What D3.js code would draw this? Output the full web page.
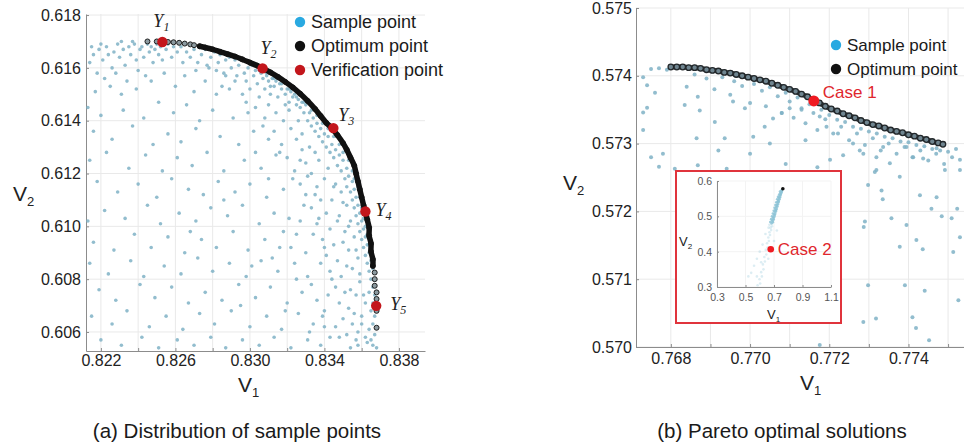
<!DOCTYPE html>
<html>
<head>
<meta charset="utf-8">
<script src="https://cdn.jsdelivr.net/npm/d3@7"></script>
<style>
body { margin: 0; background: #fff; }
svg { display: block; font-family: "Liberation Sans", Arial, sans-serif; }
</style>
</head>
<body>
<svg id="chart" width="964" height="446"></svg>
<script>
// ---- (a) distribution of sample points ----
var leftXGrid = [0.822, 0.824, 0.826, 0.828, 0.830, 0.832, 0.834, 0.836, 0.838],
    leftXTicks = [0.822, 0.826, 0.830, 0.834, 0.838],
    leftYTicks = [0.606, 0.608, 0.610, 0.612, 0.614, 0.616, 0.618];

var leftSamples = [
  // top left
  [0.8214,0.6162],[0.8216,0.6165],[0.8219,0.6167],[0.8221,0.6163],[0.8223,0.6168],[0.8224,0.6165],[0.8226,0.6160],[0.8227,0.6166],
  [0.8229,0.6169],[0.8230,0.6164],[0.8232,0.6167],[0.8233,0.6161],[0.8235,0.6168],[0.8236,0.6165],[0.8238,0.6169],[0.8239,0.6163],
  [0.8241,0.6167],[0.8242,0.6168],[0.8243,0.6164],[0.8245,0.6169],[0.8246,0.6166],[0.8247,0.6168],[0.8248,0.6162],[0.8249,0.6167],
  [0.8250,0.6169],[0.8251,0.6165],[0.8252,0.6168],[0.8218,0.6158],[0.8222,0.6156],[0.8228,0.6158],[0.8234,0.6155],[0.8240,0.6159],
  [0.8244,0.6157],[0.8215,0.6168],[0.8220,0.6169],[0.8237,0.6170],[0.8231,0.6170],[0.8253,0.6163],[0.8255,0.6167],[0.8256,0.6169],
  [0.8258,0.6164],[0.8259,0.6168],[0.8261,0.6166],[0.8263,0.6168],[0.8264,0.6162],
  // band under the upper front
  [0.8266,0.6166],[0.8268,0.6164],[0.8270,0.6167],[0.8272,0.6162],[0.8274,0.6165],[0.8276,0.6167],[0.8278,0.6160],[0.8279,0.6164],
  [0.8281,0.6166],[0.8283,0.6162],[0.8284,0.6165],[0.8286,0.6158],[0.8287,0.6163],[0.8289,0.6164],[0.8290,0.6160],[0.8292,0.6163],
  [0.8293,0.6157],[0.8294,0.6161],[0.8296,0.6163],[0.8297,0.6158],[0.8298,0.6155],[0.8299,0.6160],[0.8301,0.6161],[0.8302,0.6157],
  [0.8303,0.6159],[0.8304,0.6154],[0.8306,0.6158],[0.8307,0.6156],[0.8308,0.6152],[0.8309,0.6157],[0.8310,0.6155],[0.8311,0.6150],
  [0.8312,0.6156],[0.8313,0.6153],[0.8314,0.6155],[0.8315,0.6149],[0.8316,0.6154],[0.8317,0.6152],[0.8318,0.6155],[0.8319,0.6150],
  [0.8320,0.6152],[0.8321,0.6147],[0.8322,0.6151],[0.8323,0.6149],[0.8324,0.6150],[0.8325,0.6146],[0.8326,0.6148],[0.8327,0.6145],
  [0.8328,0.6147],[0.8329,0.6143],[0.8330,0.6146],
  // band along the steep part
  [0.8332,0.6143],[0.8331,0.6140],[0.8334,0.6141],[0.8333,0.6138],[0.8336,0.6139],[0.8335,0.6136],[0.8338,0.6137],[0.8337,0.6134],
  [0.8340,0.6135],[0.8339,0.6132],[0.8342,0.6134],[0.8341,0.6130],[0.8344,0.6131],[0.8343,0.6128],[0.8346,0.6129],[0.8345,0.6126],
  [0.8348,0.6127],[0.8347,0.6123],[0.8350,0.6125],[0.8349,0.6121],[0.8352,0.6122],[0.8351,0.6118],[0.8353,0.6119],[0.8352,0.6115],
  [0.8355,0.6117],[0.8354,0.6113],[0.8356,0.6114],[0.8355,0.6110],[0.8357,0.6111],[0.8356,0.6107],[0.8358,0.6108],[0.8357,0.6104],
  [0.8359,0.6105],[0.8358,0.6101],[0.8360,0.6102],[0.8359,0.6098],[0.8361,0.6099],[0.8360,0.6095],[0.8362,0.6096],[0.8361,0.6092],
  [0.8363,0.6093],[0.8362,0.6089],[0.8364,0.6090],[0.8363,0.6086],[0.8365,0.6087],[0.8364,0.6083],[0.8366,0.6084],[0.8365,0.6080],
  [0.8366,0.6077],[0.8364,0.6075],[0.8367,0.6074],[0.8366,0.6071],[0.8365,0.6068],[0.8367,0.6066],[0.8366,0.6063],[0.8364,0.6061],
  [0.8367,0.6059],[0.8365,0.6057],[0.8366,0.6055],[0.8368,0.6054],[0.8363,0.6056],
  // hugging the front
  [0.8305,0.6159],[0.8309,0.6158],[0.8313,0.6156],[0.8317,0.6154],[0.8321,0.6152],[0.8325,0.6149],[0.8329,0.6147],[0.8333,0.6144],
  [0.8336,0.6142],[0.8339,0.6139],[0.8342,0.6137],[0.8345,0.6134],[0.8348,0.6131],[0.8350,0.6128],[0.8353,0.6125],[0.8355,0.6121],
  [0.8356,0.6118],[0.8358,0.6115],[0.8359,0.6111],[0.8360,0.6107],[0.8361,0.6103],[0.8362,0.6100],[0.8363,0.6097],[0.8364,0.6093],
  [0.8365,0.6090],
  // wider band
  [0.8300,0.6152],[0.8305,0.6149],[0.8296,0.6150],[0.8310,0.6146],[0.8314,0.6143],[0.8303,0.6145],[0.8318,0.6140],[0.8308,0.6141],
  [0.8322,0.6137],[0.8313,0.6136],[0.8325,0.6133],[0.8317,0.6131],[0.8328,0.6129],[0.8320,0.6126],[0.8330,0.6124],[0.8324,0.6121],
  [0.8333,0.6120],[0.8327,0.6116],[0.8336,0.6115],[0.8330,0.6112],[0.8338,0.6110],[0.8333,0.6107],[0.8341,0.6105],[0.8336,0.6101],
  [0.8343,0.6099],[0.8339,0.6095],[0.8345,0.6093],[0.8341,0.6089],[0.8347,0.6087],[0.8343,0.6083],[0.8349,0.6081],[0.8346,0.6077],
  [0.8351,0.6075],[0.8348,0.6071],[0.8353,0.6069],[0.8350,0.6065],[0.8355,0.6063],[0.8352,0.6059],[0.8357,0.6057],[0.8354,0.6054],
  [0.8292,0.6155],[0.8287,0.6157],[0.8282,0.6159],[0.8277,0.6161],[0.8271,0.6159],[0.8285,0.6153],[0.8298,0.6147],[0.8307,0.6138],
  [0.8316,0.6128],[0.8323,0.6118],[0.8329,0.6108],[0.8334,0.6097],[0.8338,0.6086],[0.8342,0.6074],[0.8346,0.6062],
  [0.8326,0.6140],[0.8321,0.6144],[0.8332,0.6130],[0.8337,0.6125],[0.8340,0.6118],[0.8344,0.6110],[0.8347,0.6102],[0.8350,0.6094],
  [0.8352,0.6085],[0.8354,0.6076],[0.8356,0.6067],[0.8358,0.6060],[0.8360,0.6066],[0.8361,0.6074],[0.8359,0.6082],[0.8357,0.6091],
  [0.8353,0.6100],[0.8350,0.6109],[0.8346,0.6116],[0.8342,0.6122],[0.8335,0.6128],[0.8328,0.6135],[0.8319,0.6146],[0.8311,0.6153],
  [0.8345,0.6115],[0.8349,0.6113],[0.8352,0.6108],[0.8348,0.6104],[0.8354,0.6102],[0.8351,0.6098],[0.8356,0.6096],[0.8353,0.6091],
  [0.8358,0.6088],[0.8355,0.6084],[0.8359,0.6079],[0.8357,0.6074],[0.8362,0.6071],[0.8360,0.6063],[0.8362,0.6058],[0.8358,0.6055],
  [0.8344,0.6080],[0.8340,0.6092],[0.8337,0.6103],[0.8335,0.6112],[0.8331,0.6119],[0.8327,0.6125],[0.8340,0.6062],[0.8348,0.6058],
  // interior
  [0.8217,0.6151],[0.8225,0.6153],[0.8231,0.6150],[0.8239,0.6152],[0.8247,0.6155],[0.8254,0.6158],[0.8260,0.6153],[0.8265,0.6157],
  [0.8270,0.6151],[0.8276,0.6155],[0.8282,0.6150],[0.8289,0.6152],
  [0.8213,0.6145],[0.8220,0.6142],[0.8232,0.6144],[0.8243,0.6141],[0.8251,0.6147],[0.8259,0.6143],[0.8266,0.6146],[0.8273,0.6140],
  [0.8280,0.6144],[0.8291,0.6141],[0.8299,0.6143],
  [0.8216,0.6136],[0.8226,0.6133],[0.8237,0.6138],[0.8248,0.6131],[0.8256,0.6135],[0.8263,0.6132],[0.8271,0.6137],[0.8284,0.6134],
  [0.8294,0.6131],[0.8302,0.6136],[0.8310,0.6133],
  [0.8214,0.6125],[0.8223,0.6128],[0.8235,0.6122],[0.8244,0.6127],[0.8253,0.6121],[0.8261,0.6126],[0.8269,0.6123],[0.8277,0.6128],
  [0.8286,0.6121],[0.8297,0.6125],[0.8306,0.6122],[0.8314,0.6127],
  [0.8218,0.6117],[0.8229,0.6113],[0.8240,0.6116],[0.8250,0.6111],[0.8258,0.6118],[0.8267,0.6114],[0.8275,0.6112],[0.8283,0.6117],
  [0.8292,0.6113],[0.8300,0.6116],[0.8309,0.6111],[0.8318,0.6114],
  [0.8213,0.6102],[0.8222,0.6106],[0.8233,0.6103],[0.8245,0.6108],[0.8252,0.6101],[0.8262,0.6105],[0.8271,0.6102],[0.8279,0.6107],
  [0.8288,0.6104],[0.8296,0.6108],[0.8305,0.6101],[0.8313,0.6105],[0.8321,0.6103],
  [0.8216,0.6094],[0.8227,0.6091],[0.8238,0.6097],[0.8247,0.6092],[0.8256,0.6096],[0.8265,0.6090],[0.8274,0.6095],[0.8282,0.6092],
  [0.8291,0.6098],[0.8299,0.6091],[0.8308,0.6095],[0.8316,0.6092],[0.8325,0.6097],
  [0.8214,0.6086],[0.8224,0.6082],[0.8236,0.6087],[0.8243,0.6081],[0.8254,0.6085],[0.8263,0.6082],[0.8272,0.6088],[0.8280,0.6083],
  [0.8289,0.6086],[0.8298,0.6081],[0.8306,0.6087],[0.8315,0.6083],[0.8324,0.6086],[0.8331,0.6081],
  [0.8219,0.6076],[0.8228,0.6072],[0.8241,0.6078],[0.8249,0.6073],[0.8258,0.6077],[0.8267,0.6071],[0.8276,0.6075],[0.8285,0.6072],
  [0.8294,0.6078],[0.8303,0.6073],[0.8311,0.6077],[0.8320,0.6071],[0.8328,0.6075],[0.8336,0.6072],
  [0.8215,0.6066],[0.8226,0.6063],[0.8234,0.6068],[0.8246,0.6062],[0.8255,0.6066],[0.8264,0.6061],[0.8273,0.6067],[0.8281,0.6063],
  [0.8290,0.6068],[0.8300,0.6062],[0.8309,0.6066],[0.8317,0.6061],[0.8326,0.6067],[0.8334,0.6063],[0.8340,0.6068],
  [0.8220,0.6057],[0.8231,0.6055],[0.8242,0.6058],[0.8251,0.6054],[0.8261,0.6057],[0.8270,0.6055],[0.8279,0.6058],[0.8287,0.6054],
  [0.8296,0.6057],[0.8305,0.6055],[0.8313,0.6058],[0.8322,0.6054],[0.8331,0.6057],[0.8338,0.6055],[0.8343,0.6058],
  [0.8318,0.6098],[0.8322,0.6092],[0.8327,0.6102],[0.8312,0.6088],[0.8330,0.6090],[0.8333,0.6078],[0.8325,0.6080],[0.8319,0.6068],
  [0.8339,0.6066],[0.8332,0.6060],[0.8301,0.6085],[0.8295,0.6070],[0.8310,0.6118],[0.8303,0.6128],[0.8286,0.6110],[0.8268,0.6098]
];

var leftOptimum = [
  [0.8245,0.61700],[0.8250,0.61700],[0.8256,0.61698],[0.8259,0.61697],[0.8262,0.61695],[0.8265,0.61692],[0.8268,0.61689],
  [0.8270,0.61686],[0.8273,0.61682],[0.8276,0.61677],[0.8280,0.61670],[0.8284,0.61661],[0.8288,0.61652],[0.8292,0.61643],
  [0.8296,0.61632],[0.8300,0.61620],[0.8304,0.61608],[0.8307,0.61598],[0.8311,0.61583],[0.8315,0.61566],[0.8319,0.61547],
  [0.8323,0.61526],[0.8327,0.61502],[0.8331,0.61475],[0.8335,0.61444],[0.8338,0.61418],[0.8341,0.61392],[0.8344,0.61372],
  [0.8347,0.61345],[0.8350,0.61315],[0.8352,0.61290],[0.8354,0.61260],[0.8356,0.61230],[0.8357,0.61200],[0.8358,0.61170],
  [0.8359,0.61140],[0.8360,0.61110],[0.8361,0.61080],[0.8362,0.61056],[0.8363,0.61025],[0.8364,0.60995],[0.8364,0.60965],
  [0.8365,0.60935],[0.8365,0.60905],[0.8366,0.60875],[0.8366,0.60850],[0.8367,0.60825],[0.8367,0.60800],[0.8367,0.60775],
  [0.8368,0.60750],[0.8368,0.60725],[0.8368,0.60700],[0.8368,0.60680],[0.8368,0.60616]
];

var verifyPoints = [[0.8253,0.61698],[0.83068,0.61598],[0.83448,0.61372],[0.8362,0.61056],[0.83678,0.60699]],
    verifyNames = ["1", "2", "3", "4", "5"];

// ---- (b) Pareto optimal solutions ----
var rightXGrid = [0.768, 0.769, 0.770, 0.771, 0.772, 0.773, 0.774, 0.775, 0.776],
    rightXTicks = [0.768, 0.770, 0.772, 0.774],
    rightYTicks = [0.570, 0.571, 0.572, 0.573, 0.574, 0.575];

var rightSamples = [
  [0.7673,0.57398],[0.7675,0.57410],[0.7677,0.57411],[0.7679,0.57409],[0.7674,0.57353],[0.7676,0.57375],[0.7673,0.57346],
  [0.7674,0.57386],[0.7678,0.57285],[0.7675,0.57280],[0.7677,0.57266],[0.7681,0.57263],[0.7673,0.57320],
  [0.7686,0.57402],[0.7689,0.57396],[0.7691,0.57380],[0.7693,0.57398],[0.7695,0.57372],[0.7696,0.57392],[0.7698,0.57385],
  [0.7700,0.57360],[0.7701,0.57388],[0.7703,0.57378],[0.7704,0.57355],[0.7705,0.57383],[0.7707,0.57370],[0.7708,0.57345],
  [0.7709,0.57375],[0.7710,0.57362],[0.7711,0.57338],[0.7712,0.57368],[0.7713,0.57352],[0.7714,0.57330],[0.7715,0.57358],
  [0.7716,0.57345],[0.7717,0.57320],[0.7718,0.57350],[0.7719,0.57336],[0.7720,0.57342],[0.7721,0.57315],[0.7722,0.57335],
  [0.7723,0.57325],[0.7724,0.57332],[0.7725,0.57305],[0.7726,0.57325],[0.7727,0.57315],[0.7728,0.57322],[0.7729,0.57298],
  [0.7730,0.57318],[0.7731,0.57308],[0.7732,0.57315],[0.7733,0.57290],[0.7734,0.57310],[0.7735,0.57300],[0.7736,0.57308],
  [0.7737,0.57285],[0.7738,0.57303],[0.7739,0.57295],[0.7740,0.57302],[0.7741,0.57280],[0.7742,0.57298],[0.7743,0.57290],
  [0.7744,0.57296],[0.7745,0.57275],[0.7746,0.57292],[0.7747,0.57285],[0.7748,0.57290],[0.7749,0.57270],[0.7750,0.57288],
  [0.7751,0.57280],[0.7752,0.57292],[0.7753,0.57276],[0.7755,0.57285],
  [0.76865,0.57308],[0.76873,0.57349],[0.76835,0.57357],[0.76840,0.57384],[0.76868,0.57369],[0.76911,0.57332],[0.76936,0.57308],
  [0.76957,0.57362],[0.76987,0.57352],[0.77008,0.57310],[0.77037,0.57325],[0.77058,0.57337],[0.77080,0.57345],[0.77100,0.57352],
  [0.77130,0.57350],[0.77202,0.57276],[0.77235,0.57283],[0.77193,0.57325],[0.77176,0.57340],[0.77222,0.57315],[0.77260,0.57300],
  [0.77286,0.57285],[0.77319,0.57280],[0.77336,0.57295],[0.77353,0.57271],[0.77395,0.57295],[0.77412,0.57280],[0.77437,0.57278],
  [0.77471,0.57293],[0.77492,0.57261],[0.77530,0.57261],[0.77378,0.57251],[0.77315,0.57258],[0.76868,0.57268],[0.76941,0.57263],
  [0.7692,0.57290],[0.7700,0.57285],[0.7705,0.57300],[0.7709,0.57270],[0.7714,0.57305],[0.7717,0.57265],
  [0.77319,0.57261],[0.77332,0.57231],[0.77335,0.57218],[0.77429,0.57224],[0.77471,0.57221],[0.77458,0.57204],[0.77484,0.57193],
  [0.77523,0.57204],[0.77509,0.57190],[0.77357,0.57190],[0.77395,0.57180],[0.77378,0.57148],[0.77420,0.57158],[0.77436,0.57144],
  [0.77513,0.57140],[0.77530,0.57162],[0.77298,0.57091],[0.77391,0.57091],[0.77441,0.57083],[0.77526,0.57069],[0.77318,0.57042],
  [0.77410,0.57044],[0.77419,0.57028],[0.77452,0.57010],[0.77286,0.57037],[0.77287,0.57177],[0.77290,0.57185],[0.77298,0.57239],
  [0.77277,0.57290],[0.7756,0.57120],[0.7758,0.57180],[0.7760,0.57060],[0.7757,0.57030],[0.7761,0.57250],[0.7756,0.57265],
  [0.7758,0.57245],[0.7760,0.57275],[0.7757,0.57225],[0.77176,0.57003]
];

var rightOptimum = [
  [0.76800,0.57413],[0.76815,0.57413],[0.76830,0.57413],[0.76845,0.57412],[0.76860,0.57412],[0.76875,0.57411],[0.76890,0.57409],
  [0.76905,0.57408],[0.76920,0.57407],[0.76935,0.57405],[0.76950,0.57404],[0.76965,0.57402],[0.76980,0.57400],[0.76995,0.57398],
  [0.77010,0.57396],[0.77025,0.57394],[0.77040,0.57392],[0.77055,0.57389],[0.77070,0.57386],[0.77085,0.57383],[0.77100,0.57380],
  [0.77115,0.57377],[0.77130,0.57373],[0.77145,0.57369],[0.77160,0.57364],[0.77175,0.57360],[0.77190,0.57355],[0.77205,0.57351],
  [0.77220,0.57348],[0.77235,0.57344],[0.77250,0.57341],[0.77265,0.57338],[0.77280,0.57334],[0.77295,0.57331],[0.77310,0.57328],
  [0.77325,0.57326],[0.77340,0.57323],[0.77355,0.57320],[0.77370,0.57318],[0.77385,0.57316],[0.77400,0.57313],[0.77415,0.57311],
  [0.77430,0.57308],[0.77445,0.57306],[0.77460,0.57303],[0.77475,0.57301],[0.77487,0.57299]
];

var case1 = [0.77161, 0.57363];

// inset: whole design space
var insetXTicks = [0.3, 0.5, 0.7, 0.9, 1.1],
    insetYTicks = [0.3, 0.4, 0.5, 0.6];

var insetSamples = [
  [0.757,0.575],[0.750,0.572],[0.753,0.567],[0.745,0.566],[0.748,0.561],[0.740,0.559],[0.744,0.555],[0.735,0.553],[0.739,0.548],
  [0.730,0.546],[0.734,0.541],[0.725,0.540],[0.729,0.535],[0.720,0.533],[0.724,0.528],[0.715,0.526],[0.719,0.521],[0.710,0.519],
  [0.714,0.514],[0.705,0.512],[0.709,0.507],[0.700,0.505],[0.703,0.499],[0.694,0.497],[0.698,0.491],[0.688,0.489],[0.692,0.483],
  [0.683,0.480],[0.686,0.472],[0.676,0.468],[0.680,0.461],[0.668,0.455],[0.672,0.447],[0.660,0.440],[0.664,0.430],[0.651,0.424],
  [0.655,0.412],[0.642,0.405],[0.646,0.392],[0.632,0.385],[0.636,0.372],[0.622,0.364],[0.626,0.350],[0.610,0.342],[0.615,0.330],
  [0.598,0.322],[0.603,0.310],[0.585,0.305],[0.755,0.570],[0.747,0.563],[0.738,0.552],[0.731,0.543],[0.722,0.531],[0.713,0.517],
  [0.704,0.503],[0.696,0.494],[0.690,0.486],
  [0.742,0.570],[0.736,0.562],[0.728,0.555],[0.722,0.548],[0.716,0.540],[0.710,0.532],[0.704,0.524],[0.698,0.516],[0.692,0.508],
  [0.686,0.500],[0.680,0.492],[0.674,0.484],[0.668,0.476],[0.662,0.468],
  [0.620,0.420],[0.600,0.400],[0.580,0.380],[0.560,0.360],[0.540,0.340],[0.520,0.330],[0.640,0.450],[0.660,0.380],[0.700,0.430],
  [0.720,0.460],[0.580,0.330],[0.610,0.370]
];
var insetOptimum = [[0.762, 0.578]],
    case2 = [0.677, 0.407];

var sampleColor = "#7fb2c6",
    legendSampleColor = "#29a9e1",
    verifyColor = "#c3161c",
    caseColor = "#ef1b22",
    caseTextColor = "#e0262d";

var svg = d3.select("#chart");

function styleAxis(g, size, color) {
    g.attr("font-family", null).attr("font-size", size);
    g.select(".domain").attr("stroke", "#8c8c8c");
    g.selectAll(".tick line").attr("stroke", "#8c8c8c");
    g.selectAll(".tick text").attr("fill", color);
}

function drawFrame(g, x, y, xGrid, xTicks, yTicks, fmt, opt) {
    var x0 = x.range()[0], x1 = x.range()[1],
        y0 = y.range()[0], y1 = y.range()[1];

    g.append("g").selectAll("line").data(xGrid).join("line")
        .attr("x1", d => x(d)).attr("x2", d => x(d))
        .attr("y1", y0).attr("y2", y1)
        .attr("stroke", opt.grid);
    g.append("g").selectAll("line").data(yTicks).join("line")
        .attr("x1", x0).attr("x2", x1)
        .attr("y1", d => y(d)).attr("y2", d => y(d))
        .attr("stroke", opt.grid);

    var xAxis = g.append("g")
        .attr("transform", "translate(0," + y0 + ")")
        .call(d3.axisBottom(x).tickValues(xGrid)
            .tickSizeInner(-opt.tick).tickSizeOuter(0).tickPadding(opt.padX)
            .tickFormat(d => xTicks.indexOf(d) >= 0 ? fmt(d) : ""));
    styleAxis(xAxis, opt.font, opt.text);

    var yAxis = g.append("g")
        .attr("transform", "translate(" + x0 + ",0)")
        .call(d3.axisLeft(y).tickValues(yTicks)
            .tickSizeInner(-opt.tick).tickSizeOuter(0).tickPadding(opt.padY)
            .tickFormat(fmt));
    styleAxis(yAxis, opt.font, opt.text);
}

function axisTitle(g, px, py, sub, size) {
    var t = g.append("text").attr("x", px).attr("y", py)
        .attr("font-size", size).attr("fill", "#222");
    t.append("tspan").text("V");
    t.append("tspan").attr("font-size", size * 0.62).attr("dy", size * 0.25).text(sub);
}

function legend(g, lx, ly, size, items) {
    items.forEach(function(it, i) {
        g.append("circle").attr("cx", lx).attr("cy", ly[i]).attr("r", 5.2).attr("fill", it.color);
        g.append("text").attr("x", lx + 11).attr("y", ly[i]).attr("dy", "0.35em")
            .attr("font-size", size).attr("fill", "#1a1a1a").text(it.name);
    });
}

// ---------- panel (a) ----------
var xA = d3.scaleLinear().domain([0.8212, 0.8394]).range([86, 425]),
    yA = d3.scaleLinear().domain([0.60528, 0.61804]).range([351, 14]),
    gA = svg.append("g");

drawFrame(gA, xA, yA, leftXGrid, leftXTicks, leftYTicks, d3.format(".3f"),
    {grid: "#e9e9e9", tick: 3, padX: 4, padY: 5, font: 16, text: "#222"});

gA.append("g").selectAll("circle").data(leftSamples).join("circle")
    .attr("cx", d => xA(d[0])).attr("cy", d => yA(d[1]))
    .attr("r", 1.8).attr("fill", sampleColor).attr("opacity", 0.85);

gA.append("g").selectAll("circle").data(leftOptimum).join("circle")
    .attr("cx", d => xA(d[0])).attr("cy", d => yA(d[1]))
    .attr("r", 2.5).attr("fill", "#8c9aa0").attr("stroke", "#1f1f1f").attr("stroke-width", 1);

// where the optimum points pile up they read as one solid black band
var denseFront = leftOptimum.filter(d => d[0] >= 0.8273 && d[1] >= 0.6085);
gA.append("path").datum(denseFront)
    .attr("d", d3.line().x(d => xA(d[0])).y(d => yA(d[1])).curve(d3.curveCatmullRom))
    .attr("fill", "none").attr("stroke", "#111").attr("stroke-width", 5.5).attr("stroke-linecap", "round");

var verifyOffset = [[-9, -15], [-2, -14], [5, -7], [10, 4], [14, 4]];
verifyPoints.forEach(function(p, i) {
    gA.append("circle").attr("cx", xA(p[0])).attr("cy", yA(p[1])).attr("r", 5.2).attr("fill", verifyColor);
    var t = gA.append("text")
        .attr("x", xA(p[0]) + verifyOffset[i][0]).attr("y", yA(p[1]) + verifyOffset[i][1])
        .attr("font-family", "Liberation Serif, Times New Roman, serif").attr("font-style", "italic")
        .attr("font-size", 18).attr("fill", "#222");
    t.append("tspan").text("Y");
    t.append("tspan").attr("font-size", 12).attr("dy", 4).text(verifyNames[i]);
});

legend(gA, 300, [22, 46, 70], 18, [
    {name: "Sample point", color: legendSampleColor},
    {name: "Optimum point", color: "#111"},
    {name: "Verification point", color: verifyColor}
]);

axisTitle(gA, 13, 201, "2", 21);
axisTitle(gA, 238, 392, "1", 21);
gA.append("text").attr("x", 237).attr("y", 438).attr("text-anchor", "middle")
    .attr("font-size", 20.5).attr("fill", "#1a1a1a").text("(a) Distribution of sample points");

// ---------- panel (b) ----------
var xB = d3.scaleLinear().domain([0.76712, 0.7762]).range([636, 995.6]),
    yB = d3.scaleLinear().domain([0.570, 0.575]).range([347, 8]),
    gB = svg.append("g");

drawFrame(gB, xB, yB, rightXGrid, rightXTicks, rightYTicks, d3.format(".3f"),
    {grid: "#e9e9e9", tick: 3, padX: 6, padY: 4, font: 16, text: "#222"});

gB.append("g").selectAll("circle").data(rightSamples).join("circle")
    .attr("cx", d => xB(d[0])).attr("cy", d => yB(d[1]))
    .attr("r", 2).attr("fill", sampleColor).attr("opacity", 0.85);

gB.append("path").datum(rightOptimum)
    .attr("d", d3.line().x(d => xB(d[0])).y(d => yB(d[1])).curve(d3.curveCatmullRom))
    .attr("fill", "none").attr("stroke", "#30373b").attr("stroke-width", 5).attr("stroke-linecap", "round");
gB.append("g").selectAll("circle").data(rightOptimum).join("circle")
    .attr("cx", d => xB(d[0])).attr("cy", d => yB(d[1]))
    .attr("r", 2.8).attr("fill", "#6f8590").attr("stroke", "#23282b").attr("stroke-width", 1.3);

gB.append("circle").attr("cx", xB(case1[0])).attr("cy", yB(case1[1])).attr("r", 5.5).attr("fill", caseColor);
gB.append("text").attr("x", xB(case1[0]) + 9).attr("y", yB(case1[1]) - 3)
    .attr("font-size", 17).attr("fill", caseTextColor).text("Case 1");

legend(gB, 836, [45, 69], 17, [
    {name: "Sample point", color: legendSampleColor},
    {name: "Optimum point", color: "#111"}
]);

axisTitle(gB, 563, 190, "2", 21);
axisTitle(gB, 800, 390, "1", 21);
gB.append("text").attr("x", 782).attr("y", 438).attr("text-anchor", "middle")
    .attr("font-size", 20.5).attr("fill", "#1a1a1a").text("(b) Pareto optimal solutions");

// ---------- inset ----------
var gI = gB.append("g");
gI.append("rect").attr("x", 676).attr("y", 171).attr("width", 165).attr("height", 152)
    .attr("fill", "#fff").attr("stroke", "#e0343c").attr("stroke-width", 2);

var xI = d3.scaleLinear().domain([0.3, 1.1]).range([717, 831]),
    yI = d3.scaleLinear().domain([0.3, 0.6]).range([287, 181]);

drawFrame(gI, xI, yI, insetXTicks, insetXTicks, insetYTicks, d3.format(".1f"),
    {grid: "#f3f3f3", tick: 2, padX: 7, padY: 5, font: 10.5, text: "#555"});

// the sparse tail of the cloud is much fainter than its dense top
gI.append("g").selectAll("circle").data(insetSamples).join("circle")
    .attr("cx", d => xI(d[0])).attr("cy", d => yI(d[1]))
    .attr("r", 1.3).attr("fill", "#8cc3d6")
    .attr("opacity", d => d[1] >= 0.48 ? 0.85 : 0.3);
gI.append("g").selectAll("circle").data(insetOptimum).join("circle")
    .attr("cx", d => xI(d[0])).attr("cy", d => yI(d[1]))
    .attr("r", 1.8).attr("fill", "#111");

gI.append("circle").attr("cx", xI(case2[0])).attr("cy", yI(case2[1])).attr("r", 3.3).attr("fill", caseColor);
gI.append("text").attr("x", xI(case2[0]) + 7).attr("y", yI(case2[1]) + 6)
    .attr("font-size", 17).attr("fill", caseTextColor).text("Case 2");

axisTitle(gI, 679, 246, "2", 13);
axisTitle(gI, 767, 319, "1", 13);
</script>
</body>
</html>
